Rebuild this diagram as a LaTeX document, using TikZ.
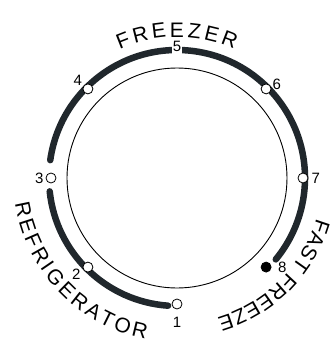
\documentclass[tikz,border=0pt]{standalone}
\usepackage{fontspec}
\setmainfont{Liberation Sans}
\usepackage{xcolor}
\usetikzlibrary{positioning, decorations.text}
\definecolor{scalecolor}{HTML}{20272C}

\begin{document}
\begin{tikzpicture}[
    x=1pt, y=1pt,
    scale arc/.style={scalecolor, line width=6.5pt},
    dial mark/.style={circle, draw, line width=0.8pt, fill=white, inner sep=0pt, minimum size=10pt},
    dial num/.style={inner sep=0pt, font=\fontsize{15}{15}\selectfont}
]
  \useasboundingbox (-177,-165) rectangle (156,178);

  % Inner knob
  \draw[line width=0.9pt] (0,0) circle (110);

  % Thick scale, gap at 3 and at 5
  \draw[scale arc, line cap=round] (-94:128) arc[start angle=-94, end angle=-174, radius=128];
  \draw[scale arc, line cap=round] (172:128) arc[start angle=172, end angle=-39.5, radius=128];

  % Setting marks
  \foreach \n/\a in {1/-90, 2/-135, 3/180, 4/135, 6/45, 7/0} {
    \node[dial mark] (m\n) at (\a:126) {};
  }
  \node[dial mark, fill=black] (m8) at (-45:126) {};

  % Numbers
  \node[dial num, below=7.5pt of m1] (n1) {1};
  \node[dial num, below left=-2.5pt and 3.5pt of m2] (n2) {2};
  \node[dial num, left=2pt of m3] (n3) {3};
  \node[dial num, above left=-1pt and 2pt of m4] (n4) {4};
  \node[dial num, fill=white, minimum width=10.6pt, minimum height=18pt] (n5) at (90:132) {5};
  \node[dial num, above right=-4.5pt and 2.5pt of m6] (n6) {6};
  \node[dial num, right=3pt of m7] (n7) {7};
  \node[dial num, right=6.5pt of m8] (n8) {8};

  % Curved labels
  \path[decorate, decoration={text along path, text align=fit to path,
      text={|\fontsize{21}{21}\selectfont|FREEZER}}]
    (114:141) arc[start angle=114, end angle=66, radius=141];
  \path[decorate, decoration={text along path, text align=fit to path,
      text={|\fontsize{21}{21}\selectfont|REFRIGERATOR}}]
    (189:164) arc[start angle=189, end angle=259, radius=164];
  \path[decorate, decoration={text along path, text align=fit to path,
      text={|\fontsize{21}{21}\selectfont|FAST FREEZE}}]
    (-16:145) arc[start angle=-16, end angle=-74, radius=145];
\end{tikzpicture}
\end{document}
